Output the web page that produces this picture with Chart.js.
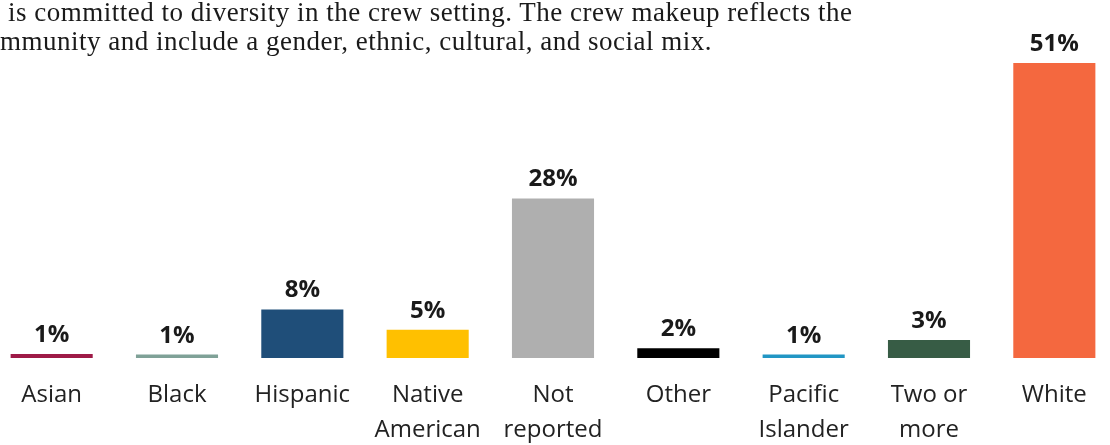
<!DOCTYPE html>
<html>
<head>
<meta charset="utf-8">
<script src="https://cdn.jsdelivr.net/npm/chart.js@4.4.1/dist/chart.umd.min.js"></script>
<style>
  html, body { margin: 0; padding: 0; background: #fff; overflow: hidden; }
  body { width: 1110px; height: 445px; position: relative; }
  #chartBox { position: absolute; left: -11px; top: 0; width: 1128px; height: 468px; }
  .intro { position: absolute; left: 0; font-family: "Liberation Serif", serif; font-size: 27px; line-height: 29px; letter-spacing: 0.5px; color: #1a1a1a; white-space: nowrap; }
  #line1 { top: -2px; left: 8px; }
  #line2 { top: 27px; }
</style>
</head>
<body>
<div id="chartBox"><canvas id="crewChart"></canvas></div>
<div class="intro" id="line1">is committed to diversity in the crew setting. The crew makeup reflects the</div>
<div class="intro" id="line2"><span id="cut">co</span>mmunity and include a gender, ethnic, cultural, and social mix.</div>
<script>
const categories = [['Asian'], ['Black'], ['Hispanic'], ['Native', 'American'], ['Not', 'reported'], ['Other'], ['Pacific', 'Islander'], ['Two or', 'more'], ['White']];
const shares = [0.7, 0.6, 8.4, 4.9, 27.6, 1.7, 0.6, 3.1, 51];
const barColors = ['#9e1a47', '#7fa197', '#1f4e79', '#ffc000', '#afafaf', '#000000', '#2196c4', '#375c45', '#f4683f'];

// hide the clipped "co" of the second line
const cut = document.getElementById('cut');
document.getElementById('line2').style.left = (-cut.getBoundingClientRect().width) + 'px';

const valueLabels = {
    id: 'valueLabels',
    afterDatasetsDraw(chart) {
        const ctx = chart.ctx;
        const meta = chart.getDatasetMeta(0);
        ctx.save();
        ctx.font = 'bold 24px "Open Sans"';
        ctx.fillStyle = '#1a1a1a';
        ctx.textAlign = 'center';
        ctx.textBaseline = 'alphabetic';
        meta.data.forEach((bar, i) => {
            ctx.fillText(Math.round(shares[i]) + '%', bar.x, bar.y - 12);
        });
        ctx.restore();
    }
};

new Chart(document.getElementById('crewChart'), {
    type: 'bar',
    data: {
        labels: categories,
        datasets: [{
            data: shares,
            backgroundColor: barColors,
            borderWidth: 0,
            barPercentage: 0.655,
            categoryPercentage: 1
        }]
    },
    options: {
        responsive: true,
        maintainAspectRatio: false,
        animation: false,
        layout: { padding: { top: 11, bottom: 0, left: 0, right: 0 } },
        plugins: { legend: { display: false }, tooltip: { enabled: false } },
        scales: {
            x: {
                grid: { display: false, drawTicks: false },
                border: { display: false },
                ticks: {
                    color: '#222',
                    padding: 20,
                    maxRotation: 0,
                    autoSkip: false,
                    font: { family: 'Open Sans', size: 24, lineHeight: 1.458 }
                }
            },
            y: { display: false, min: 0, max: 60 }
        }
    },
    plugins: [valueLabels]
});
</script>
</body>
</html>
